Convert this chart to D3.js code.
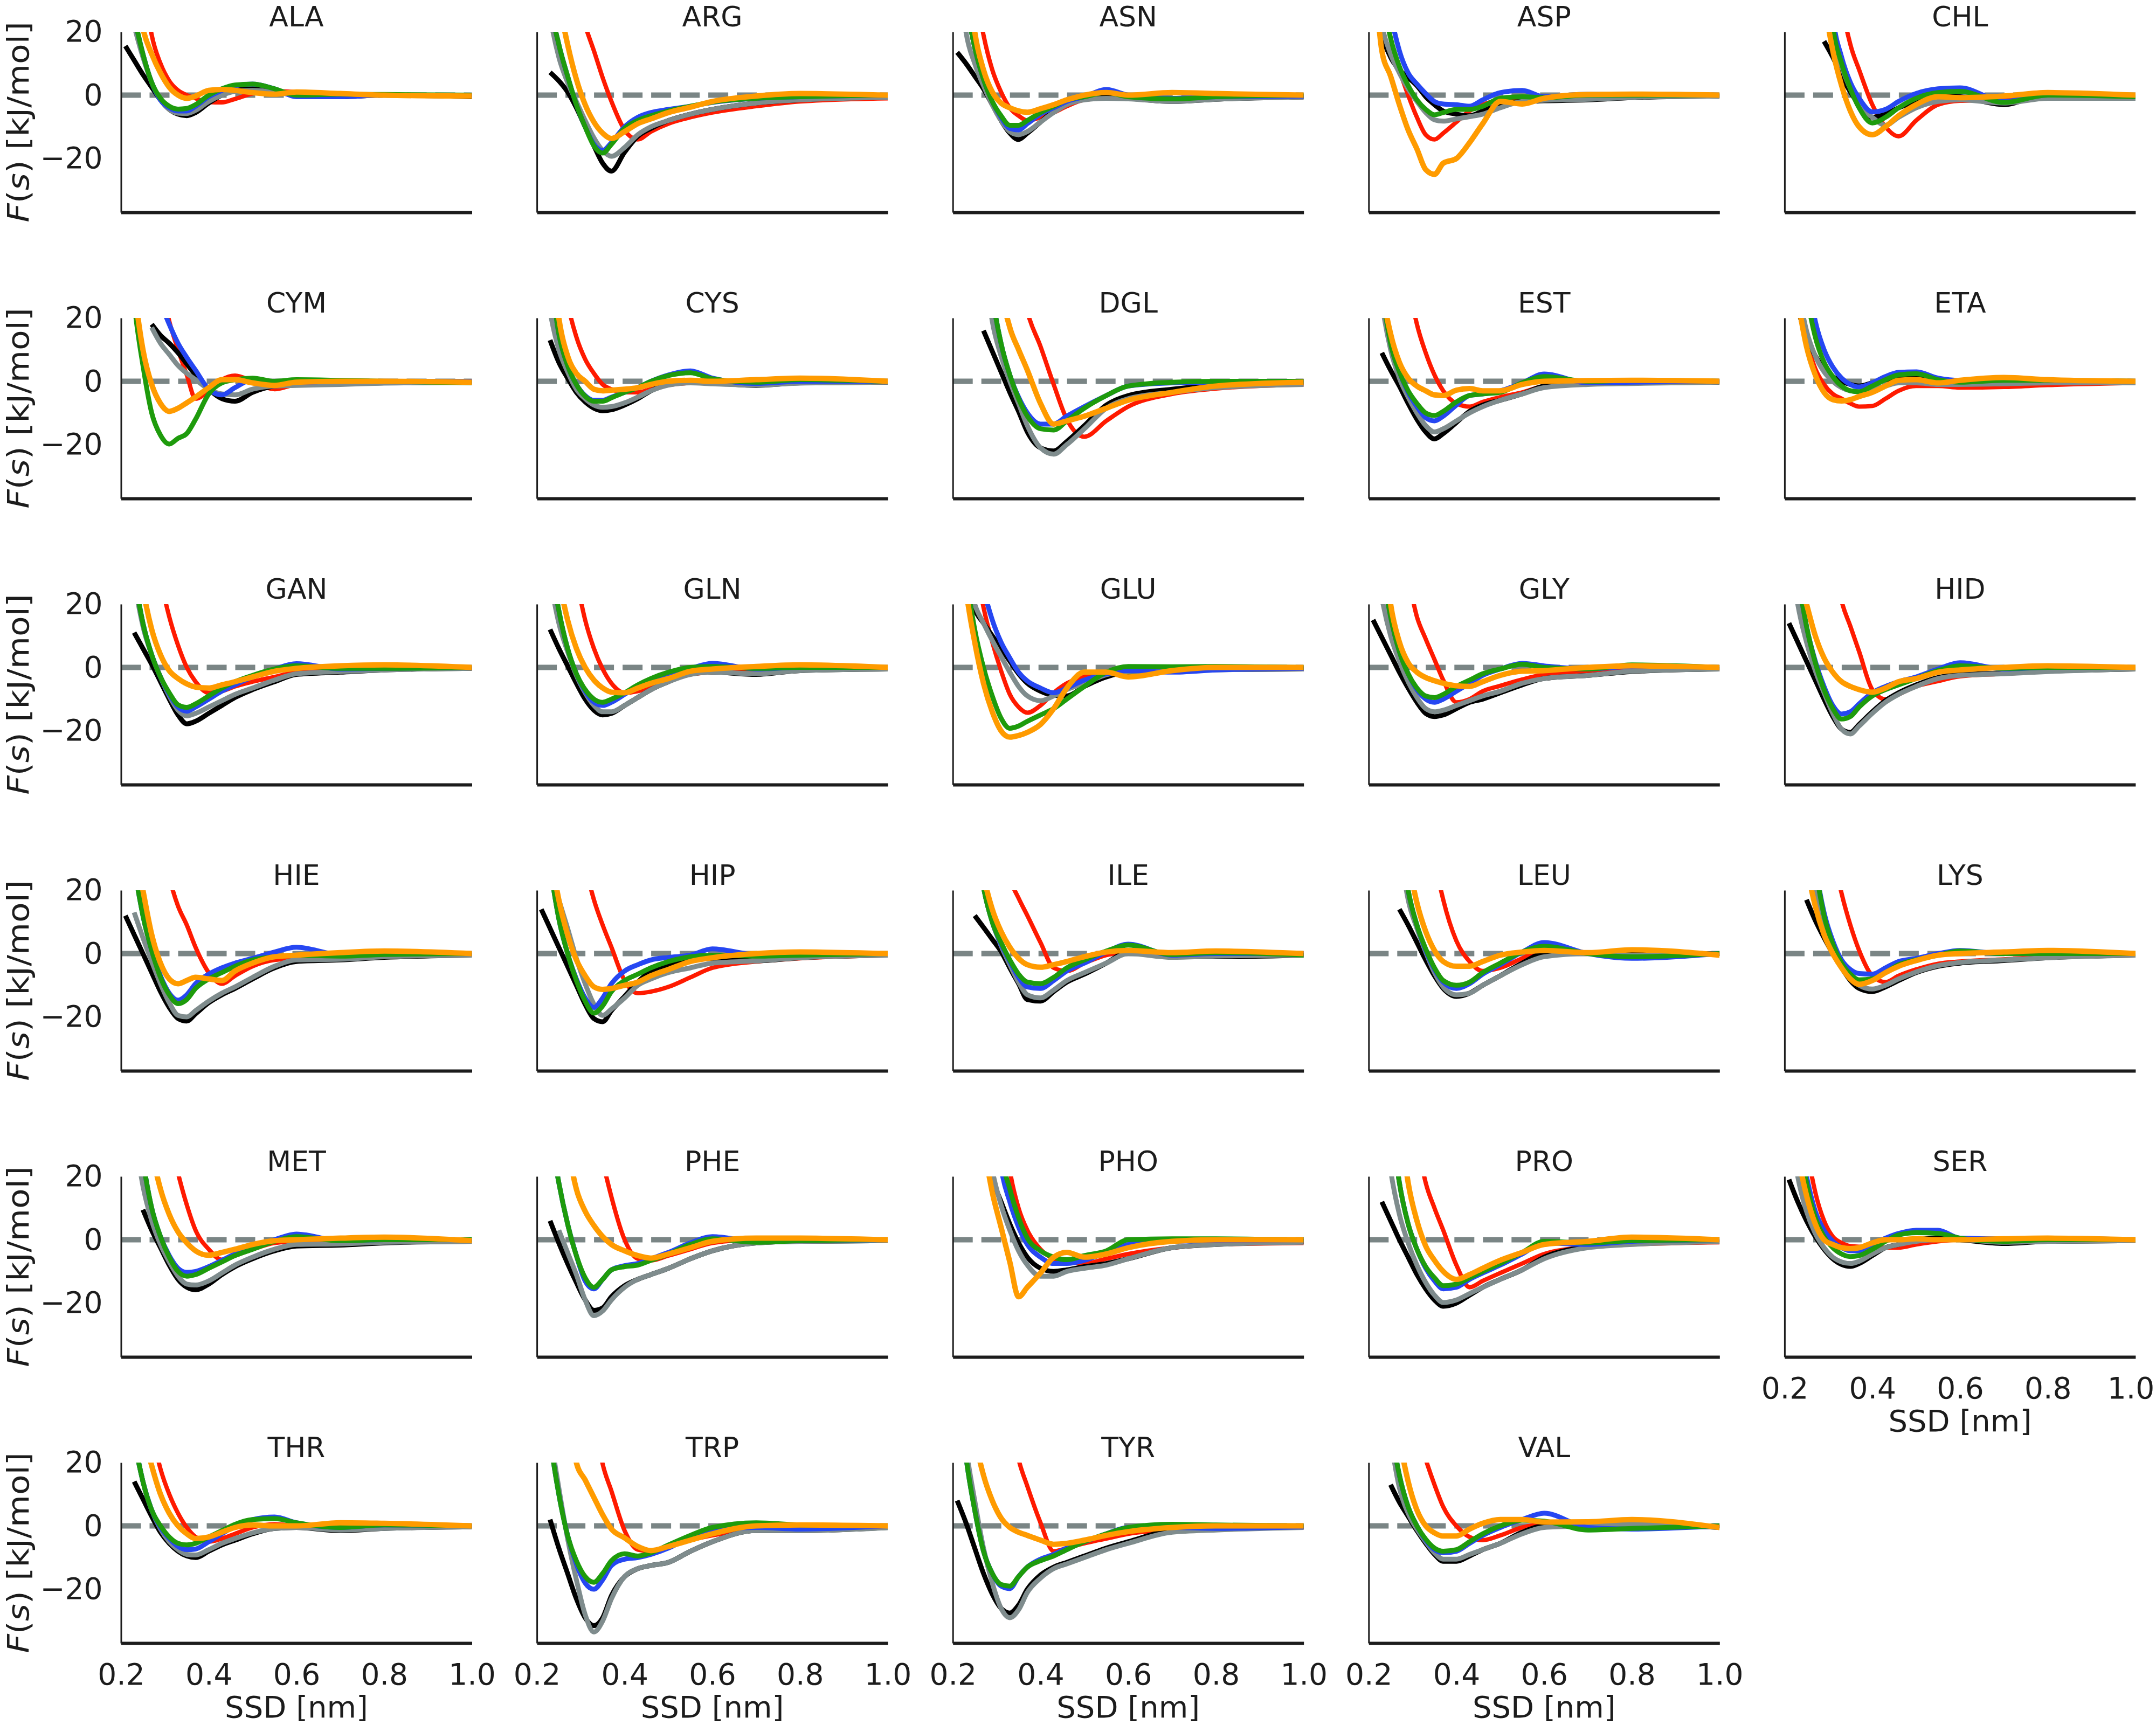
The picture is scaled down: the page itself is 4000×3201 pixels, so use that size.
<!DOCTYPE html>
<html><head><meta charset="utf-8">
<script src="https://cdn.jsdelivr.net/npm/d3@7"></script>
<style>body{margin:0;background:#fff}svg{display:block}</style>
</head><body>
<svg id="c" width="4000" height="3201"></svg>
<script>
const residues = ["ALA","ARG","ASN","ASP","CHL","CYM","CYS","DGL","EST","ETA","GAN","GLN","GLU","GLY","HID","HIE","HIP","ILE","LEU","LYS","MET","PHE","PHO","PRO","SER","THR","TRP","TYR","VAL"];
const ssd = [0.21,0.23,0.25,0.27,0.29,0.31,0.33,0.35,0.37,0.40,0.43,0.46,0.50,0.55,0.60,0.70,0.80,1.00];
const seriesNames = ["black","gray","blue","green","orange","red"];
const seriesColors = ["#000000","#7f8c8d","#2647f2","#1e9b0c","#ff9b00","#ff1a00"];
const seriesWidths = [9,9,9,9,10,8];
const drawOrder = [5,0,1,2,3,4];
const yTicks = [20,0,-20];
const xTicks = [0.2,0.4,0.6,0.8,1.0];

const ALA = [
 [15.5,11,6.5,2.5,-1.5,-4.5,-6,-6.5,-5.5,-2.5,0,1.5,2,1.2,0,-0.5,0,-0.5],
 [35,22,12,4,-1.5,-4.5,-5.7,-5.8,-4.8,-2,0,1.2,1.5,1,0,-0.3,0,-0.3],
 [40,25,13,4,-1.5,-4,-5,-5,-3.5,-0.5,1.5,3,3.5,2,-0.5,-0.5,0,0],
 [40,25,13,4,-1,-3.5,-4.4,-4.2,-3,0,2,3.2,3.5,2,0,0.3,0.2,0],
 [60,38,21,13,7,2.5,0,-1,-0.3,1.5,1.8,1.5,0.8,0.3,1,0.5,0,-0.3],
 [80,60,38,19,10,4.5,1.5,0,-1,-2.2,-2.3,-1.2,0.5,1.2,1,-0.5,0,0]];
const ARG = [
 [null,7.2,4.5,1,-4,-10,-16,-21.5,-24,-18,-13,-10.5,-8,-6,-4.5,-2.5,-1.5,-0.6],
 [45,25,12,4,-2,-8,-13.5,-17.5,-19.3,-16.5,-12.5,-10,-8,-6,-4.5,-2.5,-1.5,-0.7],
 [60,30,16,6,-3,-10,-15.5,-17.5,-15,-10,-7,-5.5,-4.5,-3.5,-2.3,-1,-0.5,0],
 [60,30,16,6,-3,-10,-16,-18.3,-15.5,-10.5,-8,-6.5,-5,-3.5,-2.2,-1,-0.5,0],
 [70,50,30,16,5,-3,-8.5,-12,-13.7,-11.5,-9,-7.5,-5.5,-3.8,-2,-0.3,0.5,0],
 [100,80,60,45,32,22,14,5.5,-2,-11,-14,-11.5,-9,-7,-5.5,-3.5,-2,-1]];
const ASN = [
 [13.5,10,6,2,-3,-8,-12,-14,-12,-8.5,-5,-2.5,-1,-0.5,-1,-2,-1.3,-0.6],
 [45,20,10,3,-3,-8,-11.5,-12.5,-11.5,-8.5,-5.5,-3,-1.5,-1,-1.2,-2,-1.3,-0.6],
 [55,30,15,5,-2,-7,-10.5,-11,-9,-6,-4,-2,-0.5,1.8,0,-1,-0.5,-0.3],
 [55,30,15,5,-2,-6.5,-9.5,-9.5,-8,-5.5,-3.5,-1.5,-0.5,0.8,-0.5,-1.2,-0.5,0],
 [70,45,20,8,1,-2.5,-4,-5,-5.4,-4.3,-3,-1.5,0,0.8,0,0.8,0.5,0],
 [70,52,35,19,8,1,-4,-6.5,-8,-7,-5.5,-3.5,-1.5,-1,-1,-1,-0.7,-0.3]];
const ASP = [
 [40,20,12,8,5.5,3,-0.5,-3,-5,-6,-6.5,-5,-3,-2,-1.8,-1.5,-0.8,-0.3],
 [40,22,13,7,2,-2,-5.5,-7.8,-8.2,-7.5,-6.8,-6,-4,-2,-1.6,-1.3,-0.7,-0.3],
 [70,45,26,14,7,3.5,0.5,-2,-2.8,-3,-3.5,-1.5,0.8,1.5,-0.5,0.3,0.3,0],
 [55,32,18,9,3,-1.5,-4.5,-6.2,-5.5,-4.5,-4.5,-3.5,-1,-0.5,-0.8,0,0,0],
 [45,14,6,-3,-11,-17,-23.5,-25,-21.5,-20,-15,-9,-2,-2.8,-1,0.2,0.3,0],
 [60,35,18,8,0,-7,-12.5,-14,-12,-8.5,-5,-3,-1.5,-1,-0.8,-0.5,-0.5,-0.3]];
const CHL = [
 [null,null,null,null,17,12,6,1,-3,-7,-6,-4,-2,0,-0.5,-3,0.5,-0.5],
 [120,100,85,65,40,18,9,2,-3,-7,-9.5,-7,-4,-2,-1.5,-2.5,-1,-1],
 [120,100,85,75,60,25,12,4,-1,-5.3,-4.5,-2,0.5,2,2.3,-2,0,0],
 [120,100,85,72,55,22,10,2,-4,-8.8,-7,-4,-1,0.8,1.2,-2.3,0,-0.5],
 [110,90,70,50,30,14,3,-5,-10,-12.5,-10,-6.5,-3,-0.5,-0.8,-0.3,0.8,0],
 [150,130,115,100,90,60,30,16,8,-3,-10,-13,-8,-3,-1.8,-1.5,-1,-0.5]];
const CYM = [
 [null,null,null,18,14.5,12,9,5.5,2,-2.5,-5.5,-6.3,-3.5,-1.5,-1,-0.8,-0.5,-0.3],
 [null,null,null,17,12,8.5,5,2.5,0.5,-2.5,-4,-4.3,-2.5,-1.5,-1.3,-1,-0.6,-0.3],
 [80,60,45,33,25,18,12,7.5,3.5,-2.5,-4.3,-2,0.5,-0.3,-0.3,0,0,0],
 [60,25,5,-10,-17,-19.8,-18,-16.5,-12,-4,-0.5,0.5,1,0,0.5,0.3,0,-0.5],
 [60,30,10,-1,-7,-9.5,-8.5,-6.8,-5,-2,0.5,0.5,-0.5,-1.3,-0.3,0,0,-0.3],
 [100,80,60,45,32,19,10,2,-5.5,-3,0.5,1.8,0,-2.5,-1,-0.3,0,0]];
const CYS = [
 [null,13,6,1,-3.5,-6.5,-8.5,-9.3,-9,-7.5,-5.5,-3,-1,0,-0.5,-1.3,-0.5,-0.3],
 [40,22,10,3,-2.5,-5.5,-7.5,-8.2,-8,-6.8,-5,-3,-1.2,-0.5,-0.8,-1.2,-0.6,-0.3],
 [60,35,15,5,-1,-4.5,-6,-6,-5,-3.5,-2,0,2,3.3,1,-0.7,0,0],
 [60,35,15,5,-1,-4.7,-6.3,-6.3,-5.2,-3.5,-2,0,1.8,2.7,0.8,-0.3,0.5,0],
 [70,45,20,8,2.5,0,-2.5,-3,-2.8,-2.5,-2,-1,0,0.3,0,0.5,1,0],
 [90,70,45,25,14,7,2.5,-1,-2.5,-3.5,-3.5,-2.5,-1.2,-0.5,0,-0.5,-0.3,0]];
const DGL = [
 [null,null,null,16,9.5,3,-3.5,-9.5,-16,-21,-22,-19,-14,-7.5,-4.5,-2.5,-1.3,-0.5],
 [120,90,70,40,19,8,0,-7,-14,-21,-23,-20,-15,-8.5,-5.5,-3.5,-2,-1],
 [120,100,85,60,28,12,2,-5,-10,-13.5,-13.5,-11,-8,-4.5,-1.5,-0.5,-0.3,0],
 [120,100,85,60,28,12,2,-5.5,-11,-15,-15.4,-12.5,-8.5,-4.5,-1.5,-0.3,0,0],
 [130,110,90,75,60,30,17,10,3.5,-7,-13.5,-12.5,-11,-8.5,-6,-3.5,-1.5,-0.3],
 [150,130,110,95,80,70,50,35,22,11,-1,-12,-17.5,-12.5,-8,-4,-2.3,-1]];
const EST = [
 [null,9,3.5,-1.5,-7,-12,-16,-18.2,-16.5,-13,-9.5,-7.5,-6,-4,-1.5,-0.5,-0.5,-0.3],
 [50,25,10,1,-5,-10,-14,-16,-15,-12.5,-10,-8,-6,-4,-2,-1,-0.7,-0.3],
 [60,30,12,3,-3.5,-8,-11.5,-12.5,-11,-7.5,-4.5,-4,-3,-0.5,2.3,-0.5,-0.3,0],
 [60,30,12,3,-3,-7,-10,-10.8,-9.5,-6.5,-4.5,-4,-3.5,-0.5,1.5,0,0.3,0],
 [60,30,15,6,1,-1.5,-3,-4.3,-4.5,-2.8,-2.3,-3,-3,-1,0,0.2,0.3,0],
 [110,90,72,55,32,18,9,2,-3,-7,-8,-6.5,-5,-3.5,-1.5,-0.5,-0.3,0]];
const ETA = [
 [null,23,14,8,4,1.5,0,-1,-1.5,-0.5,0.5,1.2,1.5,0,-0.5,0,0,0],
 [50,30,16,8,3,0,-2,-3,-3.3,-2.5,-1.5,-0.5,-0.5,-1,-1,-0.8,-0.5,-0.5],
 [90,60,35,19,10,4.5,1,-1,-1.8,-0.5,1.5,2.8,3,1,0.3,0.5,0.3,0],
 [80,50,28,14,6,1.5,-1.5,-3,-3.3,-1.5,0.5,2,2.4,0.5,-0.3,0.3,0.3,0],
 [45,26,11,2,-3.5,-5.8,-6.2,-5.8,-4.8,-3.5,-1.5,0.3,0.5,-0.5,0.3,1.2,0.5,0],
 [45,27,13,4,-1,-4,-5.5,-7,-8,-7.8,-5.5,-3,-1.5,-1.5,-2,-1.8,-1.2,-0.5]];
const GAN = [
 [null,11,6,1,-4.5,-10,-15,-17.8,-17,-14.5,-12,-9.5,-7,-4.5,-2.2,-1.5,-0.8,-0.3],
 [50,28,13,4,-3,-9,-13.5,-15.3,-14.5,-12.5,-10.5,-8.5,-6.5,-4,-2,-1.3,-0.8,-0.3],
 [55,30,14,4,-3,-8.5,-12.5,-13.8,-12.5,-10,-7.5,-5.5,-3,-0.5,1.2,-0.5,-0.3,0],
 [55,30,14,4,-3,-8,-11.8,-12.6,-11.5,-9,-6.5,-4.5,-2.5,-0.5,0.5,-0.3,-0.3,0],
 [70,45,25,12,4,-1,-3.5,-5.2,-6.2,-6.5,-5.5,-4.5,-3,-1.2,-0.3,0.5,0.8,0],
 [110,85,62,43,28,16,7,0,-4.5,-8,-7.5,-6,-4.5,-3,-1.5,-0.8,-0.5,-0.3]];
const GLN = [
 [null,12,6,0.5,-5,-10,-13.5,-15,-14.5,-12,-9.5,-7,-4.5,-2,-1.5,-2.2,-1,-0.5],
 [45,28,14,5,-2.5,-8,-12,-14,-14,-12,-9.5,-7,-4.5,-2.2,-1.5,-2,-1,-0.5],
 [60,35,18,6,-2,-7.5,-11,-12,-11,-8.5,-6,-4,-2,-0.3,1.3,-0.5,0,0],
 [60,35,18,6,-2,-7,-10,-11,-10,-8,-5.5,-3.5,-1.5,0,0.3,-0.3,0,0],
 [70,45,28,15,6,0,-4,-6.5,-7.8,-8,-6.5,-5,-3.5,-1.2,-0.5,0.3,0.8,0],
 [110,85,62,43,28,15,6,-0.5,-5,-8,-7.5,-6,-4,-2.2,-1.5,-1,-0.7,-0.3]];
const GLU = [
 [null,30,18.5,14,10,6,2,-2,-5,-7.5,-8.8,-9,-6,-3,-1.5,-1,-0.7,-0.5],
 [50,32,20,14,8.5,3.5,-1.5,-6,-9,-10.5,-9,-7,-5,-2.3,-1.3,-1,-0.7,-0.5],
 [90,60,40,25,15,8,3,-1.5,-4.3,-6.5,-8,-6.5,-4,-2,-1,-1.5,-0.8,-0.3],
 [60,30,12,0,-9,-16,-19.2,-18.5,-17,-15,-13,-10,-6,-1.5,0.3,0.2,0.3,0],
 [55,25,8,-5,-14,-20,-22,-21.5,-20.5,-18,-13,-6.5,-1.5,-1.5,-3,-1,0,0],
 [90,60,35,19,8,-1,-8.5,-12.5,-14.3,-12,-8,-5,-3,-2,-1.5,-1,-0.5,-0.3]];
const GLY = [
 [15,9.5,4,-1.5,-6.5,-11,-14.5,-15.5,-15,-13,-11,-10,-8,-5.5,-3.5,-2.5,-1.3,-0.5],
 [40,22,10,2,-4.5,-9.5,-13,-14,-13.5,-12,-10.5,-9,-7.5,-5,-3.5,-2.5,-1.2,-0.5],
 [55,32,16,5,-2,-7,-10,-11,-10,-7.5,-5,-2.5,-0.5,1.3,0.5,-0.5,0.3,0],
 [55,32,16,5,-2,-6.5,-9,-9.5,-8.5,-6,-4,-2,-0.5,1,0,-0.5,0.8,0],
 [70,45,20,8,1.5,-1.5,-3.2,-4.2,-5,-5.8,-6,-4.5,-2.5,-1.2,-1,0,0.5,0],
 [100,75,52,38,28,16,9,2.5,-4,-11,-10,-7.5,-5.8,-3.8,-2.3,-1.5,-1,-0.5]];
const HID = [
 [14,8,2,-4,-10,-15.5,-19.5,-20.5,-18,-14,-10.5,-8,-5.5,-3.2,-2.3,-1.8,-1.2,-0.5],
 [40,20,8,-1,-8,-14.5,-19.5,-21,-18.5,-14.5,-11,-8.5,-6,-3.5,-2.5,-2,-1.3,-0.5],
 [55,30,13,2,-6,-12,-14.7,-14,-11.5,-8,-6,-4.5,-3,-0.5,1.5,-0.5,0,0],
 [55,30,13,1.5,-7,-13,-16.3,-15.5,-12.5,-9,-7,-5.5,-3.5,-1,0.5,-0.3,0,0],
 [50,30,20,10,3,-1.5,-4.5,-6,-7,-7.8,-6.5,-4.5,-3.5,-1.5,-0.8,0,0.5,0],
 [140,120,100,80,55,36,21,13,5,-7,-10,-8.5,-6,-4.3,-2.8,-2,-1.2,-0.5]];
const HIE = [
 [12,6,0,-6,-12,-17,-20.5,-21.3,-19,-15.5,-13,-11,-8,-4.5,-2.5,-2,-1.2,-0.5],
 [null,13,5,-2.5,-9.5,-15.5,-19.5,-20,-18,-15,-12.5,-10.5,-7.5,-4,-2,-1.8,-1,-0.5],
 [50,28,12,1,-7,-12.5,-14.7,-13,-9.5,-6.5,-4.5,-3,-1.5,0.5,2,-0.3,0,0],
 [50,28,12,1,-7.5,-13,-15.8,-14.5,-11,-8,-6,-4,-2,-1,-0.5,-0.8,-0.3,0],
 [55,35,20,6,-3,-8,-9.5,-8.5,-7.5,-8,-8.5,-5.5,-3,-1,-0.5,0.3,0.8,0],
 [110,90,70,52,36,24,15,9,2,-6,-9.5,-7,-4,-2,-1.5,-1,-0.5,-0.3]];
const HIP = [
 [14,8,2,-4,-10,-16,-20.5,-21.5,-18,-13.5,-9,-5.5,-3.5,-2,-1.5,-2.3,-1.3,-0.5],
 [null,null,17,8,-1.5,-9.5,-16,-19.5,-17.5,-14,-10,-8,-6,-4.5,-3,-2.3,-1.3,-0.5],
 [50,28,11,0,-8,-14,-17,-14,-9.5,-5.5,-3.5,-2,-1.2,-0.5,1.5,-0.3,0,0],
 [50,28,11,0,-8.5,-15,-18.8,-16.5,-12,-8.5,-6.5,-4.5,-2.5,-1,-0.5,-0.8,-0.5,0],
 [55,33,17,6,-2,-7,-10.5,-11.3,-11,-10,-9,-7,-5,-2.5,-1.3,0,0.5,0],
 [120,100,80,60,42,28,17,9,2,-8.5,-12.5,-12,-10.5,-7.5,-4.5,-2.5,-1.5,-0.5]];
const ILE = [
 [null,null,12,8.3,4.5,0.7,-4.5,-9.5,-14.5,-15,-12,-9,-6.5,-3,0.5,-1,-1,-0.5],
 [100,70,40,21,10,2.5,-3.5,-9,-13,-14,-11.5,-8.5,-6,-3,0,-1.2,-0.8,-0.5],
 [100,70,40,21,10,3,-2.5,-7.5,-10.5,-11,-8.5,-5.5,-3,0.5,3,-0.5,0,0],
 [100,70,40,21,10,3.5,-2,-6.5,-9,-9.5,-7.5,-4.5,-2,0.8,2.7,-0.3,0.3,-0.5],
 [100,75,45,25,14,7,2,-1.5,-3.5,-4.3,-3.5,-2.5,-1,0.5,1,0.3,0.8,0],
 [130,110,95,80,55,38,24,17.5,12,3.5,-4.5,-5.5,-3,-0.5,0.5,-0.3,-0.3,0]];
const LEU = [
 [null,null,null,14,9,3.5,-2,-7,-11,-13.5,-12.5,-10,-7,-3,0,0,0,0],
 [120,90,60,35,17,8,0.5,-6,-10.5,-13,-12.5,-10,-7,-3.5,-1,0,-0.5,0],
 [120,100,70,40,20,9,1,-5,-9,-11,-9.5,-6.5,-3.5,0.5,3.5,0,-1.5,0],
 [120,100,70,40,20,9,1.5,-4.5,-8.5,-10,-9,-6,-3,0.5,2.3,0,-1,0],
 [130,110,80,50,30,16,7,1,-2.5,-4,-4,-2.5,-0.5,0.5,1,0.3,1.2,-0.5],
 [150,130,110,100,90,70,50,30,17,4,-2.5,-5.5,-4.5,-1.5,1,0.3,0,0]];
const LYS = [
 [null,null,17,10.5,5,0,-4.5,-8.5,-11,-12,-10.5,-8.5,-6,-4,-3,-2.2,-1.3,-0.5],
 [90,65,40,20,9,2,-3.5,-7.5,-10,-11.2,-10,-8,-5.8,-3.8,-2.8,-2,-1.3,-0.5],
 [90,70,50,28,13,4,-2,-5,-6.3,-6.5,-4.5,-2.5,-1.5,0,1,0,0,0],
 [90,70,50,28,12,3,-3,-6.5,-8.3,-8,-6,-3.5,-2,-0.5,0.8,0,0,0],
 [70,45,28,15,6,0,-4.5,-8,-9.7,-8.5,-6,-4,-2.2,-0.5,0,0.5,1,0],
 [120,100,85,70,48,32,19,9,1,-7,-9,-7,-5,-3.2,-2.5,-1.8,-1,-0.5]];
const MET = [
 [null,null,9.5,3,-2.5,-8,-12.5,-15,-15.8,-14,-11,-8.5,-6,-3.5,-2,-1.7,-1,-0.5],
 [60,35,17,6,-1.5,-7,-11.5,-14,-14.3,-13,-10.5,-8,-5.5,-3,-1.5,-1.3,-0.8,-0.5],
 [70,45,25,10,1,-5,-9,-10.3,-10,-8.5,-6.5,-4.5,-2.5,0,1.8,-0.3,0,0],
 [70,45,25,10,1,-5.5,-10,-11.5,-11,-9,-7,-5,-3,-0.5,1,-0.3,0,0],
 [90,65,45,28,16,8,2.5,-1,-3.5,-4.9,-4,-3,-1.5,-0.3,0,0.5,0.8,-0.3],
 [130,110,90,75,52,33,21,11,3,-3,-6.3,-5,-3,-1,-0.5,-0.8,-0.5,-0.3]];
const PHE = [
 [null,6,-1,-7.5,-13.5,-19,-22.3,-21.5,-18,-14.5,-12.5,-11,-9,-6,-3.5,-1,-0.5,-0.3],
 [null,null,3,-4,-11,-19,-24,-22.5,-19,-15,-12.5,-11,-9,-6,-3.5,-1,-0.5,-0.3],
 [60,35,18,5,-5,-13,-15.5,-12.5,-9.5,-8.2,-7.5,-6,-4,-1,1,-0.5,-0.3,0],
 [60,35,18,5,-5,-12,-15,-12.5,-9.5,-8.5,-8,-6.5,-4.5,-1.5,0.3,-0.8,-0.3,0],
 [90,70,50,30,16,9,4.5,1,-1.5,-3.5,-5,-5.8,-4.5,-2.5,-0.5,0.5,0.5,0],
 [150,130,110,95,80,60,40,25,13.5,0,-6,-6.5,-5,-3,-1,0,-0.3,-0.3]];
const PHO = [
 [null,null,null,null,19,12,5,-1,-5.5,-9,-10,-9.5,-8.5,-7.5,-6,-2.5,-1.5,-0.5],
 [100,80,60,40,22,11,3,-3.5,-8,-11.5,-11.5,-10,-9,-8,-6,-2.5,-1.5,-0.8],
 [120,100,80,65,50,23,12,4,-1.5,-5.5,-7.5,-7.5,-6.5,-4,-1.5,-0.5,-0.3,0],
 [120,100,80,70,60,28,16,7,0.5,-3.5,-5.5,-6.3,-5,-3.5,0,0.3,0.3,0],
 [80,60,45,30,15,4,-7,-18,-15,-10.5,-5.5,-4,-5.5,-4.5,-2.5,-0.5,0,0],
 [130,110,95,85,80,45,22,10,3,-3,-6,-7,-7.5,-6,-4.5,-2.5,-1.5,-1]];
const PRO = [
 [null,12,6,0,-5.5,-11,-15.5,-19,-21,-20,-17.5,-15,-12.5,-9.5,-5.5,-2.3,-1.3,-0.5],
 [70,45,22,8,-1,-8,-13.5,-17.5,-19.8,-19,-17,-15,-12.5,-9.5,-6,-2.5,-1.5,-0.6],
 [100,70,40,18,5,-3,-9,-13,-15.5,-15,-12.5,-10.5,-8,-4.5,-1,-1.5,-0.5,0],
 [100,70,40,18,5,-3,-8.5,-12,-14.5,-14,-12,-10,-7.5,-4,-0.5,-1,-0.3,0],
 [120,100,70,40,18,6,-2,-6.5,-10,-12.5,-11,-9,-6.5,-4,-1.5,-0.5,0.8,0],
 [140,120,100,80,55,32,18,10,3,-8,-15,-13,-10.5,-7.5,-4.5,-2.3,-1.5,-0.8]];
const SER = [
 [19,12,6,1,-3,-6,-7.8,-8.4,-7.5,-5,-2.5,-1.5,0,0.5,0,-1.2,-0.5,-0.3],
 [40,20,9,2,-2.5,-5.5,-7,-7.5,-6.8,-4.5,-2.5,-1.5,-0.5,0,0,-0.8,-0.5,-0.3],
 [60,35,20,9,3,-0.5,-2.5,-3.5,-3.5,-1.5,0.5,2,3,3,0.5,0.3,0.5,0],
 [60,35,18,7,1,-2.5,-4.5,-5.3,-5,-3,-0.5,1.5,2.2,2,0.5,-0.5,0,0],
 [55,28,14,5,0,-1.5,-2.5,-2.8,-2.5,-1,0,0,0.3,0,0,0.3,0.5,0],
 [80,55,30,15,6,1,-1,-2,-2.2,-2.2,-2.5,-2.5,-1.5,-0.5,0,0,0,0]];
const THR = [
 [null,14,8.5,3,-2,-5.5,-8,-9.5,-10,-8,-6,-4.5,-2.5,-0.8,-0.5,-1.5,-0.8,-0.3],
 [50,28,14,5,-1,-5,-7.5,-9,-9.2,-7.5,-5.5,-4,-2.2,-0.8,-0.5,-1.3,-0.8,-0.3],
 [50,28,14,5,-0.5,-4,-6.5,-7.5,-7.3,-5,-2.5,0,2,2.8,1,-0.5,0.3,0],
 [50,28,14,5,0,-3.5,-5.5,-6,-5.5,-3.5,-1.5,0.5,2,2.3,1,-0.5,0.3,0],
 [70,45,30,19,10,4,0,-2.5,-4,-3.5,-2,-0.5,0.3,0,0,1,0.8,0],
 [90,65,45,30,18,10,4,-0.5,-3.5,-5,-4,-2.5,-0.5,0.5,0,-0.3,-0.3,0]];
const TRP = [
 [null,2,-7,-15,-23,-29,-31.5,-29,-22,-16,-13.5,-12.5,-11.5,-8,-5,-1.5,-1.5,-0.5],
 [55,30,12,-4,-17,-28,-33.5,-30,-23,-16,-13.5,-12.5,-11.5,-8,-5,-1.5,-1.5,-0.6],
 [55,28,10,-3,-12,-18,-20,-17,-12.5,-10.5,-10,-9,-7,-3.5,-1,-0.5,-1,0],
 [55,28,10,-3,-11,-16,-17.8,-15,-11,-8.8,-9.5,-8.5,-6,-3,-0.5,1,0.3,0],
 [110,85,60,38,20,14.5,9,3.5,-1,-3.8,-6.5,-7.8,-6.5,-4.5,-2.5,0,0.3,0],
 [120,100,85,70,58,47,35,19.5,11,-1.5,-7.5,-8,-6.5,-4.5,-3,-1.2,-0.8,-0.5]];
const TYR = [
 [8,1,-7,-15,-21.5,-26,-27.5,-25,-20,-15.5,-13,-11.5,-9.5,-7,-5,-1.5,-1,-0.3],
 [50,25,8,-7,-18,-26,-29,-26.5,-21,-16.5,-13.5,-12,-10,-7.5,-5.5,-2,-1.3,-0.5],
 [50,22,5,-8,-15,-19,-19.8,-16,-13,-10.5,-9,-7,-5,-2.5,-0.5,-0.5,-0.8,-0.3],
 [50,22,5,-8,-15,-18.5,-19,-16,-13,-11,-9.5,-7.5,-5,-2.5,-0.5,0.5,0.3,0],
 [70,45,28,16,8,2.5,-0.5,-2,-3,-4.5,-5.8,-5.5,-4.5,-3,-1.8,-0.5,0,0],
 [130,110,95,80,70,60,35,21,12.5,1,-8,-7,-5.5,-4,-2.5,-1.3,-0.8,-0.5]];
const VAL = [
 [null,null,13,7.5,3,-1.5,-5.5,-9,-11.2,-11.2,-9.5,-7.5,-5.5,-2,0,0.3,0.5,-0.5],
 [80,50,28,12,4,-1,-5,-8.5,-10.5,-10.5,-9,-7.5,-5.5,-2.5,-0.5,0,0.5,-0.5],
 [90,60,32,16,6,0,-4.5,-7.5,-8.5,-8,-5.5,-3,-0.5,2,4,-0.5,-1,0],
 [90,60,32,16,6,0,-4.2,-7,-8,-7.5,-5,-2.5,0,1.8,1.5,-1.3,-0.8,0],
 [110,80,50,28,14,5,0,-2.2,-3.2,-3.2,-1,0.8,2,2,1.2,1.3,2,-0.5],
 [130,110,90,65,45,30,21,13,6,0,-3.5,-4.5,-3,-0.5,0.5,-0.5,-0.5,0]];

const panelData = {ALA,ARG,ASN,ASP,CHL,CYM,CYS,DGL,EST,ETA,GAN,GLN,GLU,GLY,HID,HIE,HIP,ILE,LEU,LYS,MET,PHE,PHO,PRO,SER,THR,TRP,TYR,VAL};

const W = 651, H = 335;
const colX0 = 224.5, colStep = 771.6, rowY0 = 59, rowStep = 531;
const FONT = "DejaVu Sans";
const TXT = "#1c1c1c";
const x = d3.scaleLinear().domain([0.2, 1.0]).range([0, W]);
const y = d3.scaleLinear().domain([-37, 20]).range([H, 0]);
const fmtY = d => d < 0 ? "\u2212" + Math.abs(d) : String(d);
const line = d3.line().defined(d => d[1] != null).x(d => x(d[0])).y(d => y(d[1])).curve(d3.curveMonotoneX);

const svg = d3.select("#c");
svg.append("rect").attr("width", 4000).attr("height", 3201).attr("fill", "#fff");

residues.forEach((res, i) => {
  const row = Math.floor(i / 5), col = i % 5;
  const gx = colX0 + col * colStep;
  const g = svg.append("g").attr("transform", `translate(${gx},${rowY0 + row * rowStep})`);
  const clipId = "clip" + i;
  g.append("clipPath").attr("id", clipId).append("rect")
    .attr("x", 0).attr("y", 0).attr("width", W).attr("height", H);
  const plot = g.append("g").attr("clip-path", `url(#${clipId})`);
  plot.append("path").datum(x.domain())
    .attr("d", d3.line().x(d => x(d)).y(() => y(0)))
    .attr("fill", "none").attr("stroke", "#7a8585").attr("stroke-width", 10)
    .attr("stroke-dasharray", "37,16");
  drawOrder.forEach(si => {
    const vals = panelData[res][si];
    const pts = ssd.map((s, k) => [s, vals[k]]);
    plot.append("path").datum(pts).attr("d", line)
      .attr("fill", "none").attr("stroke", seriesColors[si])
      .attr("stroke-width", seriesWidths[si]).attr("stroke-linejoin", "round");
  });
  const showX = row === 5 || (row === 4 && col === 4);
  const ya = d3.axisLeft(y).tickValues(yTicks).tickSize(0).tickSizeOuter(0).tickPadding(34)
    .tickFormat(col === 0 ? fmtY : () => "");
  const ga = g.append("g").call(ya);
  ga.select(".domain").attr("stroke", TXT).attr("stroke-width", 3);
  ga.selectAll("text").attr("fill", TXT).style("font-family", FONT).style("font-size", "55px");
  const xa = d3.axisBottom(x).tickValues(xTicks).tickSize(0).tickSizeOuter(0).tickPadding(38)
    .tickFormat(showX ? d3.format(".1f") : () => "");
  const gb = g.append("g").attr("transform", `translate(0,${H})`).call(xa);
  gb.select(".domain").attr("stroke", TXT).attr("stroke-width", 6);
  gb.selectAll("text").attr("fill", TXT).style("font-family", FONT).style("font-size", "55px");
  // keep the right-most tick label inside the page
  gb.selectAll(".tick text").each(function(d) {
    const right = gx + x(d) + 45;
    if (right > 3998) d3.select(this).attr("dx", (3998 - right) + "px");
  });
  g.append("text").attr("x", W / 2).attr("y", -10).attr("text-anchor", "middle")
    .attr("fill", TXT).style("font-family", FONT).style("font-size", "52px").text(res);
  if (showX) {
    g.append("text").attr("x", W / 2).attr("y", H + 138).attr("text-anchor", "middle")
      .attr("fill", TXT).style("font-family", FONT).style("font-size", "56px").text("SSD [nm]");
  }
  if (col === 0) {
    const yl = svg.append("text")
      .attr("transform", `translate(53,${rowY0 + row * rowStep + H / 2}) rotate(-90) scale(1.1,1)`)
      .attr("text-anchor", "middle").attr("fill", TXT)
      .style("font-family", FONT).style("font-size", "56px");
    yl.append("tspan").attr("font-style", "italic").text("F");
    yl.append("tspan").text("(");
    yl.append("tspan").attr("font-style", "italic").text("s");
    yl.append("tspan").text(") [kJ/mol]");
  }
});
</script>
</body></html>
